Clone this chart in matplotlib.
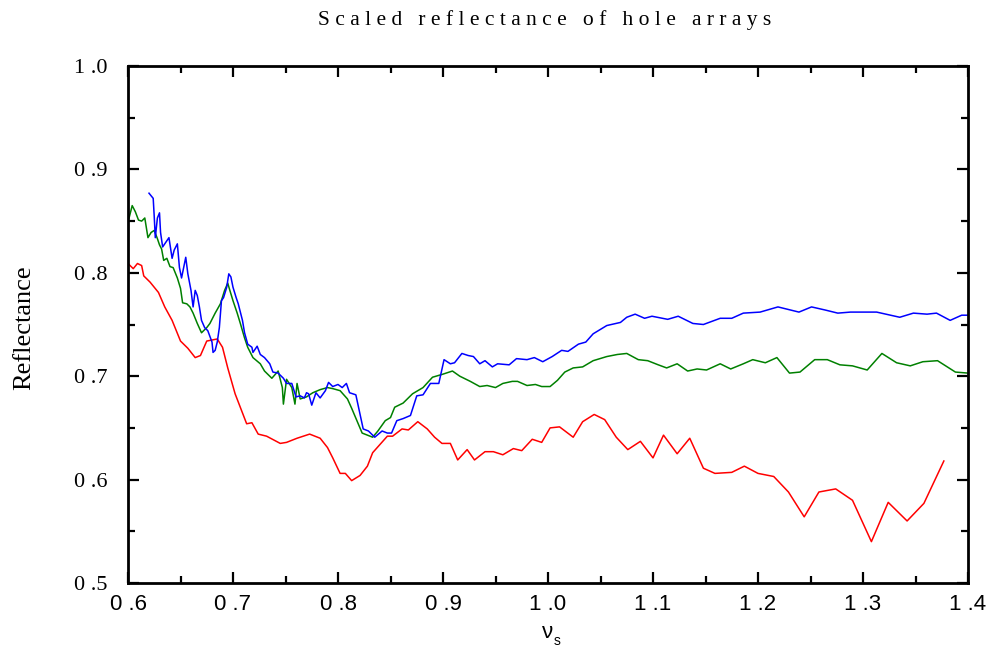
import matplotlib
matplotlib.use("Agg")
import matplotlib.pyplot as plt
from matplotlib.ticker import MultipleLocator, FixedLocator

# ---- data ----
red_x = [0.601, 0.605, 0.609, 0.613, 0.615, 0.621, 0.629, 0.635, 0.642, 0.650, 0.657, 0.664,
         0.669, 0.675, 0.685, 0.690, 0.695, 0.702, 0.713, 0.718, 0.724, 0.732, 0.745, 0.751,
         0.761, 0.773, 0.783, 0.790, 0.795, 0.802, 0.807, 0.813, 0.821, 0.828, 0.833, 0.840,
         0.847, 0.852, 0.861, 0.867, 0.876, 0.885, 0.892, 0.899, 0.907, 0.914, 0.923, 0.930,
         0.940, 0.948, 0.957, 0.967, 0.975, 0.985, 0.994, 1.002, 1.011, 1.024, 1.033, 1.044,
         1.054, 1.065, 1.076, 1.088, 1.100, 1.110, 1.123, 1.135, 1.148, 1.159, 1.175, 1.187,
         1.200, 1.215, 1.229, 1.244, 1.258, 1.274, 1.290, 1.308, 1.324, 1.342, 1.358, 1.377]
red_y = [0.808, 0.804, 0.809, 0.807, 0.797, 0.791, 0.781, 0.767, 0.754, 0.734, 0.727, 0.718,
         0.720, 0.734, 0.736, 0.728, 0.708, 0.683, 0.654, 0.655, 0.644, 0.642, 0.635, 0.636,
         0.640, 0.644, 0.640, 0.631, 0.621, 0.606, 0.606, 0.599, 0.604, 0.613, 0.626, 0.634,
         0.642, 0.642, 0.649, 0.648, 0.656, 0.649, 0.641, 0.635, 0.635, 0.619, 0.629, 0.619,
         0.627, 0.627, 0.624, 0.630, 0.628, 0.639, 0.636, 0.650, 0.651, 0.641, 0.656, 0.663,
         0.658, 0.641, 0.629, 0.637, 0.621, 0.643, 0.625, 0.640, 0.611, 0.606, 0.607, 0.613,
         0.606, 0.603, 0.588, 0.564, 0.588, 0.591, 0.580, 0.540, 0.578, 0.560, 0.577, 0.618]

green_x = [0.601, 0.604, 0.607, 0.610, 0.613, 0.616, 0.619, 0.622, 0.625, 0.628, 0.630, 0.632,
           0.634, 0.637, 0.640, 0.643, 0.647, 0.650, 0.652, 0.656, 0.659, 0.662, 0.666, 0.670,
           0.675, 0.678, 0.683, 0.688, 0.692, 0.695, 0.697, 0.700, 0.704, 0.707, 0.711, 0.714,
           0.719, 0.726, 0.730, 0.737, 0.743, 0.747, 0.748, 0.751, 0.756, 0.759, 0.761, 0.764,
           0.770, 0.776, 0.783, 0.790, 0.795, 0.802, 0.809, 0.813, 0.818, 0.823, 0.828, 0.833,
           0.838, 0.845, 0.850, 0.854, 0.862, 0.871, 0.881, 0.890, 0.900, 0.909, 0.916, 0.926,
           0.935, 0.942, 0.950, 0.957, 0.966, 0.971, 0.980, 0.988, 0.994, 1.002, 1.009, 1.016,
           1.024, 1.033, 1.043, 1.056, 1.066, 1.075, 1.086, 1.095, 1.105, 1.113, 1.123, 1.133,
           1.142, 1.151, 1.164, 1.174, 1.186, 1.195, 1.207, 1.218, 1.230, 1.240, 1.254, 1.266,
           1.278, 1.290, 1.304, 1.318, 1.332, 1.345, 1.357, 1.371, 1.388, 1.400]
green_y = [0.853, 0.865, 0.859, 0.851, 0.850, 0.853, 0.834, 0.839, 0.841, 0.833, 0.827, 0.823,
           0.812, 0.814, 0.806, 0.805, 0.795, 0.785, 0.771, 0.770, 0.767, 0.761, 0.751, 0.742,
           0.747, 0.751, 0.761, 0.770, 0.783, 0.790, 0.783, 0.773, 0.761, 0.751, 0.737, 0.728,
           0.718, 0.712, 0.705, 0.698, 0.705, 0.689, 0.673, 0.697, 0.689, 0.673, 0.693, 0.678,
           0.680, 0.684, 0.687, 0.689, 0.688, 0.686, 0.678, 0.669, 0.657, 0.645, 0.643, 0.641,
           0.647, 0.657, 0.660, 0.670, 0.674, 0.683, 0.689, 0.699, 0.702, 0.705, 0.700, 0.695,
           0.690, 0.691, 0.689, 0.693, 0.695, 0.695, 0.691, 0.692, 0.690, 0.690, 0.696, 0.704,
           0.708, 0.709, 0.715, 0.719, 0.721, 0.722, 0.716, 0.715, 0.711, 0.708, 0.712, 0.705,
           0.707, 0.706, 0.712, 0.707, 0.712, 0.716, 0.713, 0.718, 0.703, 0.704, 0.716, 0.716,
           0.711, 0.710, 0.706, 0.722, 0.713, 0.710, 0.714, 0.715, 0.704, 0.703]

blue_x = [0.620, 0.624, 0.625, 0.626, 0.628, 0.630, 0.631, 0.633, 0.637, 0.639, 0.642, 0.644,
          0.647, 0.649, 0.651, 0.652, 0.655, 0.657, 0.660, 0.662, 0.664, 0.666, 0.668, 0.670,
          0.673, 0.676, 0.680, 0.681, 0.683, 0.685, 0.687, 0.689, 0.691, 0.694, 0.696, 0.698,
          0.700, 0.703, 0.705, 0.709, 0.711, 0.714, 0.718, 0.719, 0.723, 0.726, 0.730, 0.735,
          0.738, 0.743, 0.748, 0.751, 0.756, 0.760, 0.764, 0.768, 0.770, 0.772, 0.775, 0.779,
          0.783, 0.788, 0.791, 0.795, 0.800, 0.804, 0.808, 0.811, 0.817, 0.824, 0.829, 0.835,
          0.842, 0.847, 0.851, 0.856, 0.862, 0.869, 0.875, 0.881, 0.888, 0.896, 0.901, 0.907,
          0.911, 0.918, 0.924, 0.929, 0.935, 0.940, 0.947, 0.952, 0.963, 0.970, 0.980, 0.987,
          0.995, 1.004, 1.013, 1.019, 1.029, 1.036, 1.043, 1.056, 1.069, 1.075, 1.083, 1.092,
          1.099, 1.114, 1.124, 1.138, 1.148, 1.164, 1.175, 1.186, 1.202, 1.219, 1.239, 1.251,
          1.264, 1.276, 1.288, 1.313, 1.335, 1.348, 1.361, 1.370, 1.383, 1.394, 1.400]
blue_y = [0.877, 0.872, 0.854, 0.834, 0.853, 0.858, 0.839, 0.825, 0.831, 0.834, 0.814, 0.822,
          0.828, 0.805, 0.795, 0.800, 0.815, 0.799, 0.783, 0.767, 0.783, 0.778, 0.767, 0.754,
          0.747, 0.744, 0.733, 0.723, 0.725, 0.733, 0.747, 0.773, 0.776, 0.786, 0.799, 0.796,
          0.786, 0.776, 0.770, 0.754, 0.742, 0.731, 0.728, 0.723, 0.729, 0.721, 0.718, 0.712,
          0.704, 0.703, 0.698, 0.693, 0.693, 0.680, 0.681, 0.679, 0.684, 0.683, 0.672, 0.684,
          0.679, 0.686, 0.694, 0.690, 0.692, 0.689, 0.693, 0.684, 0.682, 0.649, 0.647, 0.641,
          0.647, 0.645, 0.645, 0.657, 0.659, 0.662, 0.681, 0.682, 0.693, 0.693, 0.716, 0.712,
          0.713, 0.722, 0.720, 0.719, 0.712, 0.715, 0.709, 0.712, 0.711, 0.717, 0.716, 0.718,
          0.714, 0.719, 0.725, 0.724, 0.731, 0.733, 0.741, 0.749, 0.752, 0.757, 0.760, 0.756,
          0.758, 0.755, 0.758, 0.751, 0.750, 0.756, 0.756, 0.761, 0.762, 0.767, 0.762, 0.767,
          0.764, 0.761, 0.762, 0.762, 0.757, 0.761, 0.760, 0.761, 0.754, 0.759, 0.759]

x_ticks = [0.6, 0.7, 0.8, 0.9, 1.0, 1.1, 1.2, 1.3, 1.4]
x_tick_labels = ["0 .6", "0 .7", "0 .8", "0 .9", "1 .0", "1 .1", "1 .2", "1 .3", "1 .4"]
y_ticks = [0.5, 0.6, 0.7, 0.8, 0.9, 1.0]
y_tick_labels = ["0 .5", "0 .6", "0 .7", "0 .8", "0 .9", "1 .0"]
title_text = "Scaled reflectance of hole arrays"
y_label = "Reflectance"

# ---- figure ----
fig = plt.figure(figsize=(9.89, 6.63), dpi=100)
ax = fig.add_axes([128 / 989, 80 / 663, 840 / 989, 517 / 663])

ax.plot(red_x, red_y, color="#ff0000", lw=1.1)
ax.plot(green_x, green_y, color="#008000", lw=1.1)
ax.plot(blue_x, blue_y, color="#0000ff", lw=1.1)

ax.set_xlim(0.6, 1.4)
ax.set_ylim(0.5, 1.0)

ax.xaxis.set_major_locator(FixedLocator(x_ticks))
ax.yaxis.set_major_locator(FixedLocator(y_ticks))
ax.xaxis.set_minor_locator(MultipleLocator(0.05))
ax.yaxis.set_minor_locator(MultipleLocator(0.05))
ax.set_xticklabels(x_tick_labels, fontfamily="Liberation Sans", fontsize=16)
ax.set_yticklabels(y_tick_labels, fontfamily="Liberation Serif", fontsize=16)

ax.tick_params(which="both", direction="in", top=True, right=True, width=1.6, color="black")
ax.tick_params(which="major", length=8)
ax.tick_params(which="minor", length=5)
ax.tick_params(axis="x", which="major", pad=8)
ax.tick_params(axis="y", which="major", pad=15)
for s in ax.spines.values():
    s.set_linewidth(2.0)

# spaced title
spaced = "   ".join(" ".join(w) for w in title_text.split(" "))
fig.text(545 / 989, 1 - 20 / 663, spaced, ha="center", va="center",
         fontfamily="Liberation Serif", fontsize=15.5)

fig.text(24 / 989, 1 - 328 / 663, y_label, rotation=90, ha="center", va="center",
         fontfamily="Liberation Serif", fontsize=19)

fig.text(548 / 989, 1 - 633 / 663, "ν", ha="center", va="center",
         fontfamily="Liberation Sans", fontsize=16)
fig.text(557 / 989, 1 - 641 / 663, "s", ha="center", va="center",
         fontfamily="Liberation Sans", fontsize=10)

fig.savefig("out.png", dpi=100, facecolor="white")
